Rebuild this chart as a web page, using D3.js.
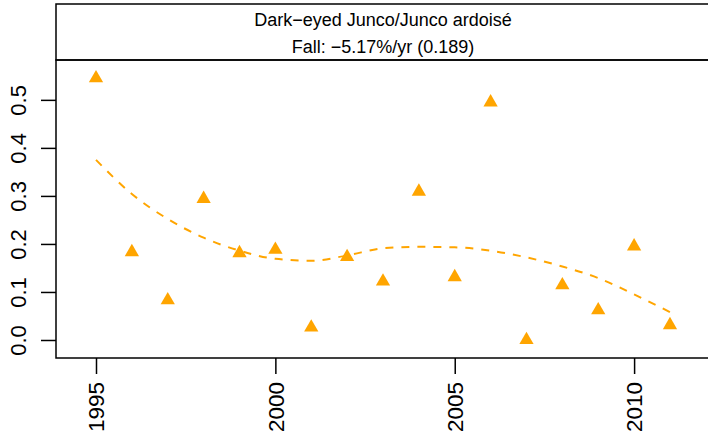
<!DOCTYPE html>
<meta charset="utf-8">
<script src="https://d3js.org/d3.v7.min.js"></script>
<style>
  body { margin: 0; background: #fff; }
  text { font-family: "Liberation Sans", Arial, sans-serif; fill: #000; }
</style>
<svg id="chart" width="708" height="446"></svg>
<script>

// data
var years = [1995, 1996, 1997, 1998, 1999, 2000, 2001, 2002, 2003, 2004, 2005, 2006, 2007, 2008, 2009, 2010, 2011];
var counts = [0.545, 0.183, 0.083, 0.294, 0.181, 0.188, 0.026, 0.173, 0.122, 0.309, 0.131, 0.495, 0.000, 0.114, 0.062, 0.195, 0.031];
// smoothed trend (dashed)
var trend = [0.375, 0.304, 0.252, 0.213, 0.186, 0.169, 0.165, 0.176, 0.191, 0.194, 0.193, 0.186, 0.172, 0.153, 0.129, 0.095, 0.058];
var xTicks = [1995, 2000, 2005, 2010];
var yTicks = [0.0, 0.1, 0.2, 0.3, 0.4, 0.5];
var titleLines = ["Dark\u2212eyed Junco/Junco ardoisé", "Fall: \u22125.17%/yr (0.189)"];

var svg = d3.select("#chart");
var orange = "#FFA500";

// plot region (pixels)
var pLeft = 56, pRight = 708, pTop = 60, pBottom = 358, headTop = 4;

var x = d3.scaleLinear().domain([1993.885, 2012.06]).range([pLeft, pRight]);
var y = d3.scaleLinear().domain([-0.0375, 0.583]).range([pBottom, pTop]);

// header strip
svg.append("rect")
  .attr("x", pLeft).attr("y", headTop)
  .attr("width", 760 - pLeft).attr("height", pTop - headTop)
  .attr("fill", "none").attr("stroke", "#000").attr("stroke-width", 1.5);

svg.selectAll(".title")
  .data(titleLines)
  .enter().append("text")
    .attr("class", "title")
    .attr("x", 383)
    .attr("y", function(d, i) { return 26 + i * 27; })
    .attr("text-anchor", "middle")
    .style("font-size", "18px")
    .text(function(d) { return d; });

// plot box
svg.append("rect")
  .attr("x", pLeft).attr("y", pTop)
  .attr("width", 760 - pLeft).attr("height", pBottom - pTop)
  .attr("fill", "none").attr("stroke", "#000").attr("stroke-width", 1.5);

// x axis
var xAxis = svg.append("g")
  .attr("transform", "translate(0," + pBottom + ")")
  .call(d3.axisBottom(x).tickValues(xTicks).tickSize(16).tickFormat(d3.format("d")));
xAxis.select(".domain").remove();
xAxis.selectAll("line").attr("stroke-width", 1.5);
xAxis.selectAll("text")
  .attr("y", 0).attr("x", 0).attr("dy", "0.35em")
  .attr("text-anchor", "end")
  .attr("transform", "translate(0,24) rotate(-90)")
  .style("font-size", "22.5px")
  .style("font-family", "Liberation Sans, Arial, sans-serif");

// y axis
var yAxis = svg.append("g")
  .attr("transform", "translate(" + pLeft + ",0)")
  .call(d3.axisLeft(y).tickValues(yTicks).tickSize(15).tickFormat(d3.format(".1f")));
yAxis.select(".domain").remove();
yAxis.selectAll("line").attr("stroke-width", 1.5);
yAxis.selectAll("text")
  .attr("x", 0).attr("y", 0).attr("dy", "0.35em")
  .attr("text-anchor", "middle")
  .attr("transform", "translate(-38,0) rotate(-90)")
  .style("font-size", "22px")
  .style("font-family", "Liberation Sans, Arial, sans-serif");

// dashed trend
var line = d3.line()
  .x(function(d, i) { return x(years[i]); })
  .y(function(d) { return y(d); })
  .curve(d3.curveMonotoneX);

svg.append("path")
  .datum(trend)
  .attr("d", line)
  .attr("fill", "none")
  .attr("stroke", orange)
  .attr("stroke-width", 2)
  .attr("stroke-dasharray", "8,8");

// triangles
svg.selectAll(".pt")
  .data(counts)
  .enter().append("path")
    .attr("class", "pt")
    .attr("transform", function(d, i) { return "translate(" + x(years[i]) + "," + y(d) + ")"; })
    .attr("d", d3.symbol().type(d3.symbolTriangle).size(88))
    .attr("fill", orange);

</script>
